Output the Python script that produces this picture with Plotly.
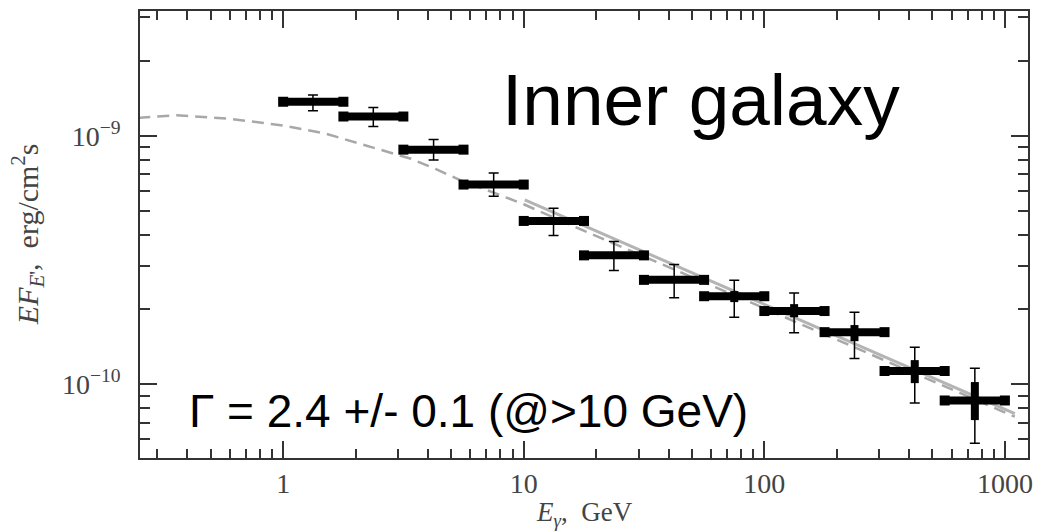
import plotly.graph_objects as go

# ---- data ----
E_lo = [1.0, 1.78, 3.16, 5.62, 10.0, 17.8, 31.6, 56.2, 100.0, 178.0, 316.0, 562.0]
E_hi = [1.78, 3.16, 5.62, 10.0, 17.8, 31.6, 56.2, 100.0, 178.0, 316.0, 562.0, 1000.0]
E_c = [1.33, 2.37, 4.22, 7.5, 13.3, 23.7, 42.2, 75.0, 133.0, 237.0, 422.0, 750.0]

F = [1.37e-9, 1.195e-9, 8.79e-10, 6.36e-10, 4.54e-10, 3.30e-10,
     2.63e-10, 2.26e-10, 1.97e-10, 1.62e-10, 1.13e-10, 8.6e-11]
F_up = [1.46e-9, 1.30e-9, 9.66e-10, 7.08e-10, 5.11e-10, 3.75e-10,
        3.03e-10, 2.62e-10, 2.33e-10, 1.95e-10, 1.41e-10, 1.16e-10]
F_dn = [1.26e-9, 1.09e-9, 7.99e-10, 5.71e-10, 3.97e-10, 2.87e-10,
        2.23e-10, 1.86e-10, 1.61e-10, 1.27e-10, 8.41e-11, 5.78e-11]
stat_up = [1.40e-9, 1.22e-9, 9.0e-10, 6.5e-10, 4.65e-10, 3.38e-10,
           2.70e-10, 2.37e-10, 2.10e-10, 1.73e-10, 1.25e-10, 1.02e-10]
stat_dn = [1.34e-9, 1.17e-9, 8.6e-10, 6.2e-10, 4.43e-10, 3.22e-10,
           2.56e-10, 2.14e-10, 1.86e-10, 1.49e-10, 1.01e-10, 7.17e-11]

# dashed model curve
model_E = [0.25, 0.36, 0.6, 1.0, 1.5, 2.0, 2.6, 3.4, 4.3, 5.5, 7.5, 10.0,
           15.0, 20.0, 30.0, 50.0, 100.0, 200.0, 500.0, 1100.0]
model_F = [1.18e-9, 1.21e-9, 1.17e-9, 1.10e-9, 1.02e-9, 9.4e-10, 8.7e-10,
           8.08e-10, 7.35e-10, 6.6e-10, 5.9e-10, 5.3e-10, 4.45e-10, 3.95e-10,
           3.36e-10, 2.70e-10, 2.02e-10, 1.51e-10, 1.03e-10, 7.4e-11]

# solid power-law fit (Gamma = 2.4)
fit_E = [10.1, 1100.0]
fit_F = [5.52e-10, 7.62e-11]

x_ticks = [1, 10, 100, 1000]
x_ticktext = ["1", "10", "100", "1000"]
y_ticks = [1e-10, 1e-9]
y_ticktext = ["10<sup>\u221210</sup>", "10<sup>\u22129</sup>"]

title_text = "Inner galaxy"
gamma_text = "\u0393 = 2.4 +/- 0.1 (@>10 GeV)"

# ---- figure ----
fig = go.Figure()

fig.add_trace(go.Scatter(x=model_E, y=model_F, mode="lines",
                         line=dict(color="#a8a8a8", width=2.5, dash="12px,7px"),
                         showlegend=False, hoverinfo="skip"))
fig.add_trace(go.Scatter(x=fit_E, y=fit_F, mode="lines",
                         line=dict(color="#b4b4b4", width=3),
                         showlegend=False, hoverinfo="skip"))

# horizontal thick bars (energy bins)
bx, by = [], []
for lo, hi, f in zip(E_lo, E_hi, F):
    bx += [lo, hi, None]
    by += [f, f, None]
fig.add_trace(go.Scatter(x=bx, y=by, mode="lines",
                         line=dict(color="black", width=8),
                         showlegend=False, hoverinfo="skip"))
# end blocks
fig.add_trace(go.Scatter(x=E_lo + E_hi, y=F + F, mode="markers",
                         marker=dict(symbol="square", size=10, color="black"),
                         showlegend=False, hoverinfo="skip"))

# thick (statistical) vertical errors
fig.add_trace(go.Scatter(
    x=E_c, y=F, mode="markers", marker=dict(size=1, color="black"),
    error_y=dict(type="data", symmetric=False,
                 array=[u - f for u, f in zip(stat_up, F)],
                 arrayminus=[f - d for f, d in zip(F, stat_dn)],
                 thickness=8, width=0, color="black"),
    showlegend=False, hoverinfo="skip"))

# thin (total) vertical errors with caps
fig.add_trace(go.Scatter(
    x=E_c, y=F, mode="markers",
    marker=dict(symbol="circle", size=6, color="black"),
    error_y=dict(type="data", symmetric=False,
                 array=[u - f for u, f in zip(F_up, F)],
                 arrayminus=[f - d for f, d in zip(F, F_dn)],
                 thickness=1.5, width=5, color="black"),
    showlegend=False, hoverinfo="skip"))

x_minor = [m * 10 ** k for k in range(-1, 3) for m in range(2, 10)]
y_minor = [m * 10.0 ** k for k in (-11, -10, -9) for m in range(2, 10)]

tickfont = dict(family="Liberation Serif", size=28, color="#444")
axis_common = dict(type="log", showgrid=False, zeroline=False,
                   showline=True, linecolor="#333", linewidth=1.5,
                   mirror="ticks", ticks="inside", ticklen=17,
                   tickwidth=1.5, tickcolor="#333", tickfont=tickfont)

fig.update_xaxes(**axis_common, range=[-0.595, 3.096],
                 tickmode="array", tickvals=x_ticks, ticktext=x_ticktext,
                 ticklabelstandoff=0,
                 minor=dict(tickmode="array", tickvals=x_minor, ticks="inside",
                            ticklen=9, tickwidth=1.5, tickcolor="#333"))
fig.update_yaxes(**axis_common, range=[-10.297, -8.498],
                 tickmode="array", tickvals=y_ticks, ticktext=y_ticktext,
                 ticklabelstandoff=12,
                 minor=dict(tickmode="array", tickvals=y_minor, ticks="inside",
                            ticklen=10, tickwidth=1.5, tickcolor="#333"))

fig.add_annotation(text=title_text, xref="paper", yref="paper",
                   x=0.405, y=0.803, xanchor="left", yanchor="middle",
                   showarrow=False,
                   font=dict(family="Liberation Sans", size=73, color="black"))
fig.add_annotation(text=gamma_text, xref="paper", yref="paper",
                   x=0.053, y=0.105, xanchor="left", yanchor="middle",
                   showarrow=False,
                   font=dict(family="Liberation Sans", size=46, color="black"))
fig.add_annotation(text="<i>E</i><sub><i>\u03b3</i></sub>,  GeV",
                   xref="paper", yref="paper", x=0.5, y=-0.125,
                   xanchor="center", yanchor="middle", showarrow=False,
                   font=dict(family="Liberation Serif", size=27, color="#444"))
fig.add_annotation(text="<i>EF</i><sub><i>E</i>'</sub>,  erg/cm<sup>2</sup>s",
                   xref="paper", yref="paper", x=-0.1265, y=0.5,
                   xanchor="center", yanchor="middle", textangle=-90,
                   showarrow=False,
                   font=dict(family="Liberation Serif", size=30, color="#444"))

fig.update_layout(width=1042, height=532,
                  margin=dict(l=140, r=9, t=10, b=74),
                  paper_bgcolor="white", plot_bgcolor="white",
                  showlegend=False)

fig.write_html("out.html")
